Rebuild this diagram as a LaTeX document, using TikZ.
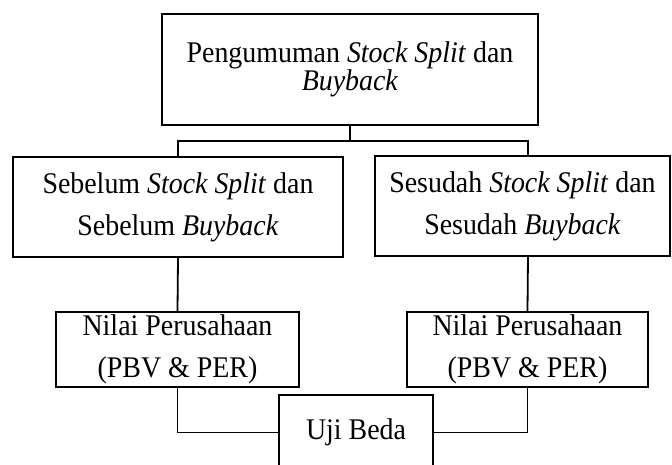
\documentclass[tikz,border=0pt]{standalone}
\usepackage{fontspec}
\setmainfont{Liberation Serif}[FakeStretch=0.93]
\begin{document}
\begin{tikzpicture}[x=1pt,y=-1pt,
  box/.style={draw,line width=1.8pt,align=center,inner sep=0pt},
  tight/.style={font=\fontsize{30}{28}\selectfont},
  loose/.style={font=\fontsize{30}{42}\selectfont},
  thick connector/.style={line width=1.8pt},
  thin connector/.style={line width=0.8pt}]
\useasboundingbox[fill=white] (0,0) rectangle (672,465);
\node[box,tight,minimum width=376,minimum height=111] (top) at (350,69.5)
  {Pengumuman \textit{Stock Split} dan\\\textit{Buyback}};
\node[box,loose,minimum width=330,minimum height=100] (left) at (178,207)
  {Sebelum \textit{Stock Split} dan\\Sebelum \textit{Buyback}};
\node[box,loose,minimum width=295,minimum height=100] (right) at (522.5,206)
  {Sesudah \textit{Stock Split} dan\\Sesudah \textit{Buyback}};
\node[box,loose,minimum width=243,minimum height=75] (nilaiL) at (177.5,349.5)
  {Nilai Perusahaan\\(PBV \& PER)};
\node[box,loose,minimum width=241,minimum height=75] (nilaiR) at (527.5,349.5)
  {Nilai Perusahaan\\(PBV \& PER)};
\node[box,tight,minimum width=154,minimum height=74] (uji) at (356,432)
  {Uji Beda};
\coordinate (j) at (350,141);
\coordinate (rtop) at (528,156);
\coordinate (rbot) at (528,256);
\draw[thick connector] (top.south) -- (j);
\draw[thick connector] (left.north) |- (j) -| (rtop);
\draw[thick connector] (left.south) -- (nilaiL.north);
\draw[thick connector] (rbot) -- (nilaiR.north);
\draw[thin connector] (nilaiL.south) |- (uji.west);
\draw[thin connector] (nilaiR.south) |- (uji.east);
\end{tikzpicture}
\end{document}
